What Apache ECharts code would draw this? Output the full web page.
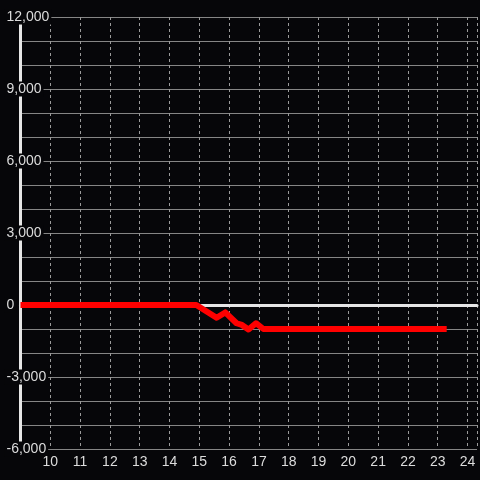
<!DOCTYPE html>
<html>
<head>
<meta charset="utf-8">
<script src="https://cdn.jsdelivr.net/npm/echarts@6/dist/echarts.min.js"></script>
<style>
  html, body { margin: 0; padding: 0; background: #060609; }
  #chart { width: 480px; height: 480px; }
</style>
</head>
<body>
<div id="chart"></div>
<script>
// hour of day vs value
const hours = [9.0, 14.9, 15.58, 15.87, 16.25, 16.43, 16.65, 16.9, 17.15, 23.3]
const values = [0, 0, -530, -310, -760, -830, -1020, -760, -1000, -1000]
const xTicks = [10, 11, 12, 13, 14, 15, 16, 17, 18, 19, 20, 21, 22, 23, 24]

const bg = '#060609'
const textColor = '#dcdcdc'

const chart = echarts.init(document.getElementById('chart'))
chart.setOption({
  backgroundColor: bg,
  animation: false,
  grid: { left: 20.5, right: 0, top: 17, bottom: 31, containLabel: false },
  xAxis: [
    {
      type: 'value',
      min: 9,
      max: 24.317,
      interval: 1,
      axisLine: { show: false, onZero: false },
      axisTick: { show: false },
      axisLabel: {
        color: textColor,
        fontFamily: 'Liberation Sans',
        fontSize: 14,
        margin: 6,
        formatter: v => (xTicks.indexOf(v) >= 0 ? String(v) : '')
      },
      splitLine: { show: true, lineStyle: { color: '#9a9a9a', width: 1, type: [3, 3] } }
    },
    {
      // white zero line
      type: 'value',
      position: 'top',
      min: 9,
      max: 24.317,
      axisLine: { show: true, onZero: true, onZeroAxisIndex: 0, lineStyle: { color: '#e6e6e6', width: 3 } },
      axisTick: { show: false },
      axisLabel: { show: false },
      splitLine: { show: false }
    }
  ],
  yAxis: {
    type: 'value',
    min: -6000,
    max: 12000,
    interval: 3000,
    axisLine: { show: true, onZero: false, lineStyle: { color: '#e6e6e6', width: 3 } },
    axisTick: { show: false },
    axisLabel: {
      color: textColor,
      fontFamily: 'Liberation Sans',
      fontSize: 14,
      align: 'left',
      margin: 16,
      backgroundColor: bg,
      padding: [1, 2, 0, 2],
      formatter: v => v.toLocaleString('en-US')
    },
    splitLine: { show: true, lineStyle: { color: '#858585', width: 1 } },
    minorTick: { show: false, splitNumber: 3 },
    minorSplitLine: { show: true, lineStyle: { color: '#858585', width: 1 } }
  },
  series: [
    {
      type: 'line',
      xAxisIndex: 0,
      data: hours.map((h, i) => [h, values[i]]),
      symbol: 'none',
      lineStyle: { color: '#ff0000', width: 6, join: 'round' },
      z: 2
    }
  ]
})
</script>
</body>
</html>
